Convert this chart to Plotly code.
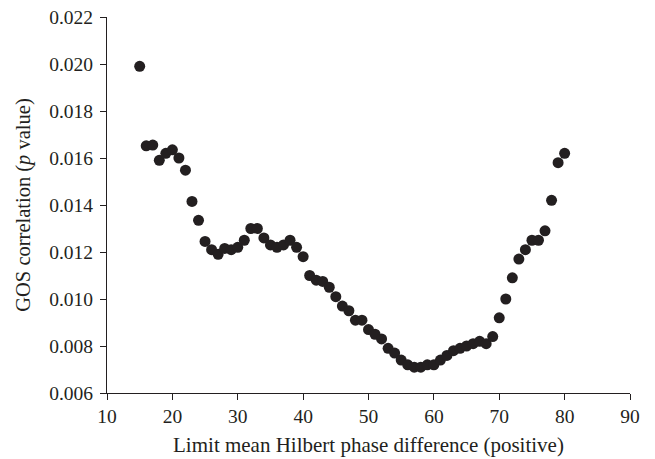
import plotly.graph_objects as go

x_vals = list(range(15, 81))
p_values = [
    0.0199, 0.01652, 0.01655, 0.0159, 0.0162, 0.01635, 0.0160, 0.01548, 0.01415, 0.01335,
    0.01245, 0.0121, 0.0119, 0.01215, 0.0121, 0.0122, 0.0125, 0.0130, 0.0130, 0.0126,
    0.0123, 0.0122, 0.0123, 0.0125, 0.0122, 0.0118, 0.0110, 0.0108, 0.01075, 0.0105,
    0.0101, 0.0097, 0.0095, 0.0091, 0.0091, 0.0087, 0.0085, 0.0083, 0.0079, 0.0077,
    0.0074, 0.0072, 0.0071, 0.0071, 0.0072, 0.0072, 0.0074, 0.0076, 0.0078, 0.0079,
    0.0080, 0.0081, 0.0082, 0.0081, 0.0084, 0.0092, 0.0100, 0.0109, 0.0117, 0.0121,
    0.0125, 0.0125, 0.0129, 0.0142, 0.0158, 0.0162,
]
x_ticks = [10, 20, 30, 40, 50, 60, 70, 80, 90]
y_ticks = [0.006, 0.008, 0.010, 0.012, 0.014, 0.016, 0.018, 0.020, 0.022]

fig = go.Figure(go.Scatter(
    x=x_vals, y=p_values, mode="markers",
    marker=dict(size=11, color="#231f20", line=dict(width=0)),
    showlegend=False,
))

font = "Liberation Serif, Times New Roman, serif"
fig.update_layout(
    width=647, height=449,
    margin=dict(l=99, r=25, t=9, b=64, autoexpand=False),
    paper_bgcolor="white", plot_bgcolor="white",
    font=dict(family=font, size=19.5, color="#231f20"),
    xaxis=dict(
        range=[10, 90], tickvals=x_ticks, showgrid=False, zeroline=False,
        showline=True, linecolor="#231f20", linewidth=1, automargin=True,
        ticks="outside", ticklen=6, tickcolor="#231f20", ticklabelstandoff=0,
        ticklabeloverflow="allow",
        title=dict(text="Limit mean Hilbert phase difference (positive)",
                   font=dict(size=21), standoff=11),
    ),
    yaxis=dict(
        range=[0.006, 0.022], tickvals=y_ticks, tickformat=".3f",
        showgrid=False, zeroline=False, automargin=True,
        showline=True, linecolor="#231f20", linewidth=1,
        ticks="outside", ticklen=6, tickcolor="#231f20", ticklabelstandoff=3,
        ticklabeloverflow="allow",
        title=dict(text="GOS correlation (<i>p</i> value)",
                   font=dict(size=20.5), standoff=13),
    ),
)

fig.write_html("out.html")
